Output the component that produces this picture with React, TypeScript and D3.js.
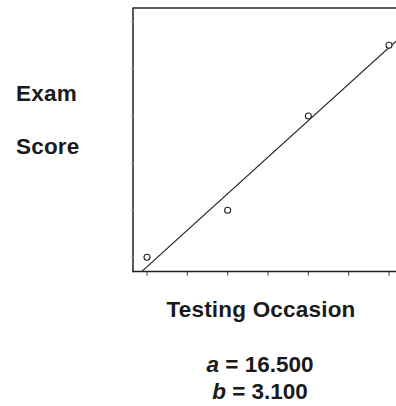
import React, { useEffect, useRef } from 'react';
import * as d3 from 'd3';

// Data
const occasions = [1, 3, 5, 7];
const scores = [20, 24, 32, 38];
const xTicks = [1, 2, 3, 4, 5, 6, 7];
const yTicks = [20, 24, 28, 32, 36, 40];
const interceptLabel = '16.500';
const slopeLabel = '3.100';

const width = 396;
const height = 406;
const frame = { left: 133, top: 8, bottom: 271.5, right: 400 };
const font = '"Liberation Sans", Arial, Helvetica, sans-serif';

const App: React.FC = () => {
  const svgRef = useRef<SVGSVGElement>(null);

  useEffect(() => {
    if (!svgRef.current) return;
    const svg = d3.select(svgRef.current);
    svg.selectAll('*').remove();

    const xScale = d3.scaleLinear().domain([1, 7]).range([147, 389]);
    const yScale = d3.scaleLinear().domain([20, 40]).range([257.3, 21.7]);

    // least squares fit through the points
    const mx = d3.mean(occasions) || 0;
    const my = d3.mean(scores) || 0;
    const sxy = d3.sum(occasions, (x, i) => (x - mx) * (scores[i] - my));
    const sxx = d3.sum(occasions, x => (x - mx) * (x - mx));
    const b = sxy / sxx;
    const a = my - b * mx;

    svg.append('defs').append('clipPath').attr('id', 'plotclip')
      .append('rect')
      .attr('x', frame.left)
      .attr('y', frame.top)
      .attr('width', frame.right - frame.left)
      .attr('height', frame.bottom - frame.top);

    // fit line
    const x0 = xScale.invert(frame.left);
    const x1 = xScale.invert(width);
    svg.append('path')
      .attr('clip-path', 'url(#plotclip)')
      .attr('d', d3.line()([
        [xScale(x0), yScale(a + b * x0)],
        [xScale(x1), yScale(a + b * x1)]
      ]))
      .attr('stroke', '#222')
      .attr('stroke-width', 1.1)
      .attr('fill', 'none');

    // points
    occasions.forEach((x, i) => {
      svg.append('circle')
        .attr('cx', xScale(x))
        .attr('cy', yScale(scores[i]))
        .attr('r', 3)
        .attr('fill', 'white')
        .attr('stroke', '#222')
        .attr('stroke-width', 1.1);
    });

    // frame
    svg.append('line')
      .attr('x1', frame.left).attr('x2', width)
      .attr('y1', frame.top).attr('y2', frame.top)
      .attr('stroke', '#222').attr('stroke-width', 1.3);
    svg.append('line')
      .attr('x1', frame.left).attr('x2', frame.left)
      .attr('y1', frame.top - 0.6).attr('y2', frame.bottom + 0.7)
      .attr('stroke', '#222').attr('stroke-width', 1.5);
    svg.append('line')
      .attr('x1', frame.left - 0.7).attr('x2', width)
      .attr('y1', frame.bottom).attr('y2', frame.bottom)
      .attr('stroke', '#222').attr('stroke-width', 1.5);

    // ticks
    xTicks.forEach(t => {
      svg.append('line')
        .attr('x1', xScale(t)).attr('x2', xScale(t))
        .attr('y1', frame.bottom).attr('y2', frame.bottom + 4)
        .attr('stroke', '#333').attr('stroke-width', 1);
    });
    yTicks.forEach(t => {
      svg.append('line')
        .attr('x1', frame.left - 2.5).attr('x2', frame.left)
        .attr('y1', yScale(t)).attr('y2', yScale(t))
        .attr('stroke', '#bbb').attr('stroke-width', 1);
    });

    // labels
    const label = (txt: string, x: number, y: number, size: number, anchor = 'start') =>
      svg.append('text')
        .text(txt)
        .attr('x', x).attr('y', y)
        .attr('text-anchor', anchor)
        .attr('font-family', font)
        .attr('font-weight', 'bold')
        .attr('font-size', size)
        .attr('letter-spacing', 0.2)
        .attr('fill', '#1a1a1a');

    label('Exam', 16, 101, 22.5);
    label('Score', 16, 154, 22.5);
    label('Testing Occasion', 261, 317, 22.5, 'middle');

    const eq = (name: string, value: string, y: number) => {
      const t = svg.append('text')
        .attr('x', 260).attr('y', y)
        .attr('text-anchor', 'middle')
        .attr('font-family', font)
        .attr('font-weight', 'bold')
        .attr('font-size', 22.5)
        .attr('fill', '#1a1a1a');
      t.append('tspan').attr('font-style', 'italic').text(name);
      t.append('tspan').text(` = ${value}`);
    };
    eq('a', interceptLabel, 372);
    eq('b', slopeLabel, 399);
  }, []);

  return (
    <div style={{ position: 'fixed', left: 0, top: 0, width, height, background: 'white' }}>
      <svg ref={svgRef} width={width} height={height} viewBox={`0 0 ${width} ${height}`} />
    </div>
  );
};

export default App;
